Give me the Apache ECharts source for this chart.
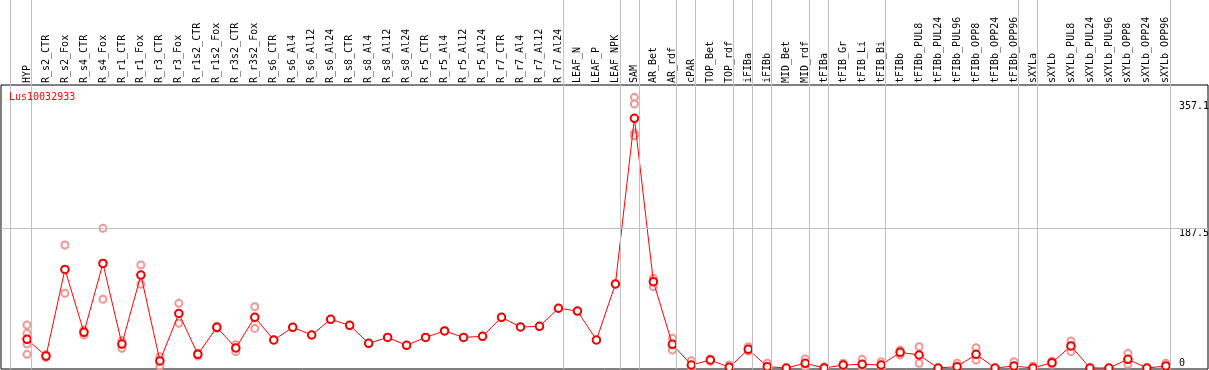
<!DOCTYPE html>
<html>
<head>
<meta charset="utf-8">
<script src="https://cdn.jsdelivr.net/npm/echarts@6/dist/echarts.min.js"></script>
<style>html,body{margin:0;padding:0;background:#fff}#c{width:1209px;height:370px}</style>
</head>
<body>
<div id="c"></div>
<script>
const categories = ["HYP","R_s2_CTR","R_s2_Fox","R_s4_CTR","R_s4_Fox","R_r1_CTR","R_r1_Fox","R_r3_CTR","R_r3_Fox","R_r1s2_CTR","R_r1s2_Fox","R_r3s2_CTR","R_r3s2_Fox","R_s6_CTR","R_s6_Al4","R_s6_Al12","R_s6_Al24","R_s8_CTR","R_s8_Al4","R_s8_Al12","R_s8_Al24","R_r5_CTR","R_r5_Al4","R_r5_Al12","R_r5_Al24","R_r7_CTR","R_r7_Al4","R_r7_Al12","R_r7_Al24","LEAF_N","LEAF_P","LEAF_NPK","SAM","AR_Bet","AR_rdf","cPAR","TOP_Bet","TOP_rdf","iFIBa","iFIBb","MID_Bet","MID_rdf","tFIBa","tFIB_Gr","tFIB_Li","tFIB_Bi","tFIBb","tFIBb_PUL8","tFIBb_PUL24","tFIBb_PUL96","tFIBb_OPP8","tFIBb_OPP24","tFIBb_OPP96","sXYLa","sXYLb","sXYLb_PUL8","sXYLb_PUL24","sXYLb_PUL96","sXYLb_OPP8","sXYLb_OPP24","sXYLb_OPP96"];
const meanValues = [38.4,16,132,47.8,140,32,124.5,9.4,73,18.3,54.5,26.8,67.9,37.5,54.5,44.2,65.2,57.2,33,41,30.4,41,49.6,41,42.4,67.9,54.9,55.8,80,76.3,37.5,112.5,334.4,115.6,31.7,4,10.7,0.9,25,1.8,0,6.3,0,4,4.9,4,21,17.4,0,1.8,18.3,0,2.7,0,7.1,29.5,0,0,11.6,0,2.7];
const replicates = [[57.6,46.4,32,18.3],[16,14,18],[164.7,100,132],[50.9,44,47.8],[187,92,140],[36.6,26.4,32],[138,112,124.5],[15,3,9.4],[86.6,60,73],[18.3,16,20],[54.5,53,56],[31.2,21.9,26.8],[82,53,67.9],[37.5],[54.5],[44.2],[65.2],[57.2],[33],[41],[30.4],[41],[49.6],[41],[42.4],[67.9],[54.9],[55.8],[80],[76.3],[37.5],[112.5],[362.5,353.6,314.3,311],[120,108.9,115.6],[39.8,24,31.7],[9.8,2,4],[10.7,12,9],[4,0],[28.6,22.8,25],[6.3,0],[0],[12,2,6.3],[1.8,0],[6.3,3,4],[11.6,2,4.9],[8.5,2,4],[24,17.4,21],[28.6,6.3,17.4],[0],[6.3,0],[27.2,10.7,18.3],[0],[8.5,0],[2.7,0],[9.4,5,7.1],[36.2,21.9,29.5],[0],[0],[19.6,4.9,11.6],[0],[6.3,0]];
const yTickLabels = [0, 187.5, 357.1];
const gridLineValues = [187.5];
const separatorPositions = [-0.9, 0.23, 28.23, 31.23, 32.23, 34.23, 35.23, 37.23, 38.23, 39.23, 41.23, 42.23, 45.23, 52.23, 53.23, 60.23];
const title = "Lus10032933";

const XMIN = -1.37, XMAX = 62.22, YMIN = -1.34, YMAX = 379;
const FONT = "DejaVu Sans Mono";
const meanData = meanValues.map((v, i) => [i, v]);
const repData = [];
replicates.forEach((arr, i) => arr.forEach(v => repData.push([i, v])));

function yAxisFor(values, vAlign) {
  return {type: 'value', gridIndex: 0, min: YMIN, max: YMAX, position: 'right', offset: 0,
    axisLine: {show: false}, axisTick: {show: false}, splitLine: {show: false},
    axisLabel: {customValues: values, inside: true, align: 'left', verticalAlign: vAlign, margin: 29,
      formatter: v => String(v), fontFamily: FONT, fontSize: 10, color: '#000'}};
}

const chart = echarts.init(document.getElementById('c'), null, {renderer: 'canvas'});
chart.setOption({
  animation: false,
  title: {text: title, left: 9, top: 92, padding: 0, textStyle: {color: '#ff0000', fontFamily: FONT, fontSize: 10, fontWeight: 'normal'}},
  grid: [
    {left: 1, right: 1, top: 85, bottom: 1, outerBoundsMode: 'none', containLabel: false, show: true, borderColor: '#000', borderWidth: 1, backgroundColor: 'transparent'},
    {left: 1, right: 1, top: 0, bottom: 1, outerBoundsMode: 'none', containLabel: false, show: false}
  ],
  xAxis: [
    {type: 'value', gridIndex: 0, min: XMIN, max: XMAX, position: 'top',
     axisLine: {show: false}, axisTick: {show: false}, splitLine: {show: false},
     axisLabel: {customValues: categories.map((c, i) => i), rotate: 90, margin: 2,
       formatter: v => categories[Math.round(v)] || '', fontFamily: FONT, fontSize: 10, color: '#000'}},
    {type: 'value', gridIndex: 1, min: XMIN, max: XMAX, show: false}
  ],
  yAxis: [
    yAxisFor(yTickLabels.filter(v => v > 0), 'top'),
    {type: 'value', gridIndex: 1, min: 0, max: 1, show: false},
    yAxisFor(yTickLabels.filter(v => v <= 0), 'bottom')
  ],
  series: [
    {type: 'line', xAxisIndex: 1, yAxisIndex: 1, data: [], silent: true,
     markLine: {silent: true, symbol: ['none', 'none'], label: {show: false},
       lineStyle: {color: '#c0c0c0', width: 1, type: 'solid'},
       data: separatorPositions.map(x => ({xAxis: x}))}},
    {type: 'line', xAxisIndex: 0, yAxisIndex: 0, data: [], silent: true,
     markLine: {silent: true, symbol: ['none', 'none'], label: {show: false},
       lineStyle: {color: '#c0c0c0', width: 1, type: 'solid'},
       data: gridLineValues.map(y => ({yAxis: y}))}},
    {type: 'scatter', xAxisIndex: 0, yAxisIndex: 0, data: repData, symbol: 'emptyCircle', symbolSize: 7,
     itemStyle: {color: '#f29595', borderColor: '#f29595', borderWidth: 1.3, opacity: 1}, z: 3},
    {type: 'line', xAxisIndex: 0, yAxisIndex: 0, data: meanData, symbol: 'emptyCircle', symbolSize: 7.5,
     lineStyle: {color: '#ff0000', width: 1},
     itemStyle: {color: '#ee0000', borderColor: '#ee0000', borderWidth: 1.7}, z: 4}
  ]
});
</script>
</body>
</html>
